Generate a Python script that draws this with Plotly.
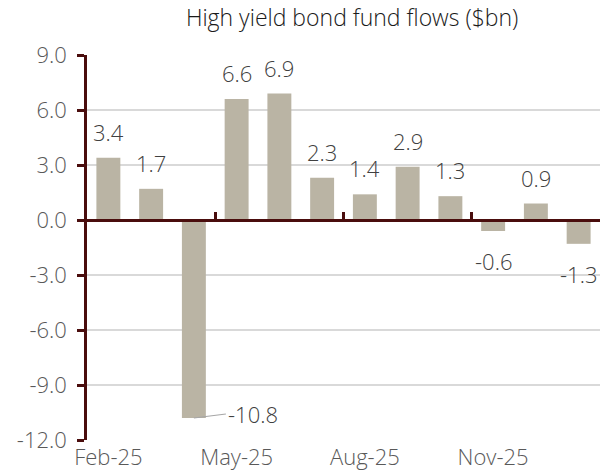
import plotly.graph_objects as go

# Monthly high yield bond fund flows, $bn
months = ["Feb-25", "Mar-25", "Apr-25", "May-25", "Jun-25", "Jul-25",
          "Aug-25", "Sep-25", "Oct-25", "Nov-25", "Dec-25", "Jan-26"]
flows = [3.4, 1.7, -10.8, 6.6, 6.9, 2.3, 1.4, 2.9, 1.3, -0.6, 0.9, -1.3]

y_ticks = [9.0, 6.0, 3.0, 0.0, -3.0, -6.0, -9.0, -12.0]
x_label_idx = [0, 3, 6, 9]

BAR = "#bab4a4"
AXIS = "#4a0d0d"
GRID = "#d9d9d9"
TICKTXT = "#595959"
LABEL = "#404040"
FONT = "Open Sans"
FS = 22

y_min, y_max = -12, 9
idx = list(range(len(months)))

fig = go.Figure()
fig.add_trace(go.Bar(
    x=idx, y=flows, marker_color=BAR, marker_line_width=0,
    width=0.56, hoverinfo="skip", showlegend=False,
))

# value labels: above positive bars, below negative ones;
# the large outflow gets a side label with a leader line
label_font = dict(family=FONT, size=FS, color=LABEL, weight=300)
annotations = []
for i, v in enumerate(flows):
    txt = f"{v:.1f}"
    if v <= y_min * 0.8:
        annotations.append(dict(
            x=i, y=v, xref="x", yref="y", text=txt, showarrow=True,
            arrowhead=0, arrowwidth=1.2, arrowcolor="#a6a6a6",
            ax=32, ay=-4, xanchor="left", standoff=0, font=label_font,
        ))
    elif v >= 0:
        annotations.append(dict(
            x=i, y=v, xref="x", yref="y", text=txt, showarrow=False,
            yanchor="bottom", yshift=9, font=label_font,
        ))
    else:
        annotations.append(dict(
            x=i, y=v, xref="x", yref="y", text=txt, showarrow=False,
            yanchor="top", yshift=-13, font=label_font,
        ))

zero_pos = (0 - y_min) / (y_max - y_min)

fig.update_layout(
    width=605, height=472,
    margin=dict(l=87, r=5, t=55, b=32, autoexpand=False),
    paper_bgcolor="white", plot_bgcolor="white",
    title=dict(text="High yield bond fund flows ($bn)", x=0.582, xanchor="center",
               y=0.98, yanchor="top",
               font=dict(family=FONT, size=23, color="#1a1a1a", weight=300)),
    xaxis=dict(
        range=[-0.5, len(months) - 0.5], tickmode="array",
        tickvals=x_label_idx, ticktext=[months[i] for i in x_label_idx],
        showgrid=False, zeroline=False, showline=False, ticks="",
        tickfont=dict(family=FONT, size=FS, color=TICKTXT, weight=300),
        ticklabelstandoff=2, automargin=False,
    ),
    # axis line along zero with quarter boundary ticks
    xaxis2=dict(
        overlaying="x", matches="x", anchor="free", position=zero_pos,
        side="bottom", range=[-0.5, len(months) - 0.5],
        tickmode="array", tickvals=[-0.5, 2.5, 5.5, 8.5, 11.5],
        showticklabels=False, ticks="inside", ticklen=7, tickwidth=2.5,
        tickcolor=AXIS, showline=True, linecolor=AXIS, linewidth=2.5,
        showgrid=False, zeroline=False, automargin=False,
    ),
    yaxis=dict(
        range=[y_min, y_max], tickmode="array", tickvals=y_ticks,
        ticktext=[f"{t:.1f}" for t in y_ticks],
        showgrid=True, gridcolor=GRID, gridwidth=1.5, zeroline=False,
        showline=True, linecolor=AXIS, linewidth=2.5,
        ticks="outside", ticklen=7, tickwidth=2.5, tickcolor=AXIS,
        tickfont=dict(family=FONT, size=FS, color=TICKTXT, weight=300),
        ticklabelstandoff=6, automargin=False,
    ),
    annotations=annotations,
)

# invisible trace so the zero-line axis is drawn
fig.add_trace(go.Scatter(x=[0], y=[0], xaxis="x2", mode="markers",
                         marker=dict(opacity=0), hoverinfo="skip", showlegend=False))

fig.write_html("out.html")
